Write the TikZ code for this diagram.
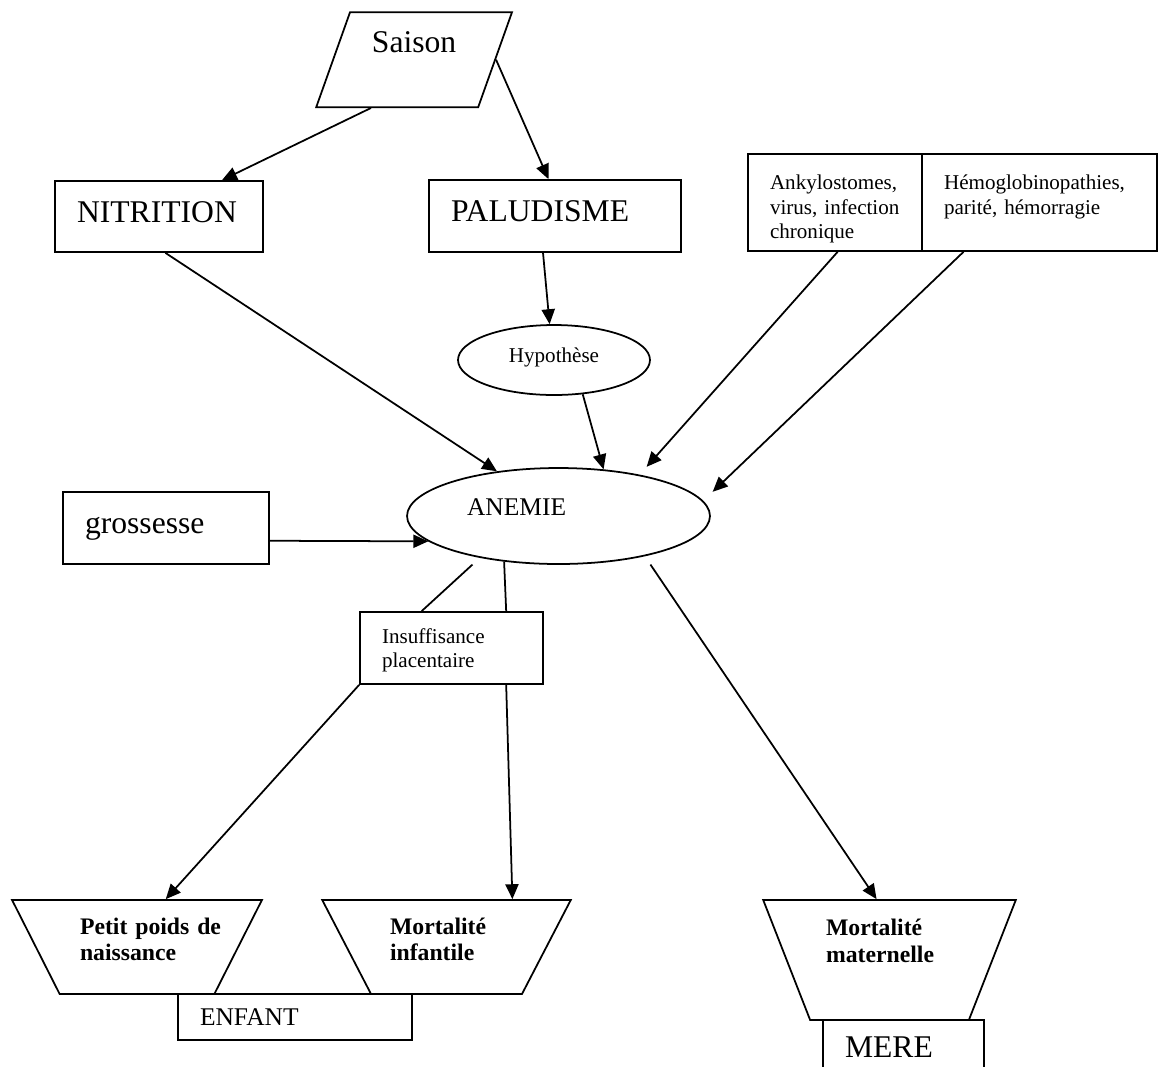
\documentclass[tikz,border=0pt]{standalone}
\usepackage{fontspec}
\setmainfont{Liberation Serif}
\usepackage{tikz}
\usetikzlibrary{positioning, arrows.meta, shapes.geometric}

\begin{document}
\begin{tikzpicture}[x=0.02cm, y=-0.02cm, line width=1pt,
  big/.style={font=\fontsize{18}{21}\selectfont},
  mid/.style={font=\fontsize{14.5}{17}\selectfont},
  small/.style={font=\fontsize{12}{14.2}\selectfont},
  heavy/.style={font=\fontsize{13.5}{15.3}\selectfont\bfseries},
  drop/.style={text height=10pt, text depth=#1},
  tbox/.style={draw, rectangle, inner xsep=0.44cm, align=left},
  oval/.style={draw, ellipse},
  funnel/.style={draw, trapezium, shape border rotate=180, trapezium stretches=true, align=left},
  arr/.style={-{Triangle[length=8.5pt,width=7.5pt]}}]

\useasboundingbox (0,0) rectangle (1159,1066);
\clip (0,0) rectangle (1159,1066);

% causes
\node[draw, trapezium, trapezium left angle=67.7, trapezium right angle=112.3, trapezium stretches=true,
  minimum width=3.94cm, minimum height=1.9cm, big, drop=18.5pt, anchor=bottom left corner] (saison) at (315,108) {Saison};
\node[tbox, big, drop=3.5pt, text width=3.28cm, minimum height=1.42cm] (nitrition) at (159,216.5) {NITRITION};
\node[tbox, big, drop=3.5pt, text width=4.16cm, minimum height=1.44cm] (paludisme) at (555,216) {PALUDISME};
\node[tbox, small, drop=25.3pt, text width=2.6cm, minimum height=1.94cm] (ankylo) at (835,202.5) {Ankylostomes,\\ virus, infection\\ chronique};
\node[tbox, small, drop=25.3pt, text width=3.82cm, minimum height=1.94cm] (hemo) at (1039.5,202.5) {Hémoglobinopathies,\\ parité, hémorragie};
\node[oval, small, drop=6.6pt, minimum width=3.84cm, minimum height=1.4cm] (hypo) at (554,360) {Hypothèse};
\node[tbox, big, drop=3.2pt, text width=3.24cm, minimum height=1.44cm] (grossesse) at (166,528) {grossesse};

% centre
\node[oval, mid, drop=11.1pt, text width=3.66cm, align=left, minimum width=6.06cm, minimum height=1.92cm] (anemie) at (558.5,516) {ANEMIE};
\node[tbox, small, drop=15.7pt, text width=2.78cm, minimum height=1.44cm] (insuff) at (451.5,648) {Insuffisance\\ placentaire};

% effects
\node[funnel, heavy, drop=24.7pt, text width=2.28cm, trapezium angle=62, minimum width=5cm, minimum height=1.88cm] (ppn) at (137,947) {Petit~poids~de\\ naissance};
\node[funnel, heavy, drop=24.7pt, text width=2.26cm, trapezium angle=61, minimum width=4.98cm, minimum height=1.88cm] (infant) at (446.5,947) {Mortalité\\ infantile};
\node[funnel, heavy, drop=38.3pt, text width=2.54cm, trapezium angle=67, minimum width=5.06cm, minimum height=2.4cm] (mater) at (889.5,960) {Mortalité\\ maternelle};
\node[tbox, mid, drop=0pt, text width=3.8cm, minimum height=0.92cm] (enfant) at (295,1017) {ENFANT};
\node[tbox, big, drop=1pt, text width=2.34cm, minimum height=1.2cm] (mere) at (903.5,1050) {MERE};

% arrows
\draw[arr] ([xshift=-0.52cm]saison.bottom side) -- (nitrition.30);
\draw[arr] (saison.right side) -- (paludisme.100);
\draw[arr] (nitrition.-80) -- (anemie.144);
\draw[arr] (paludisme.-108) -- (hypo.97);
\draw[arr] (hypo.-50) -- (anemie.46);
\draw[arr, shorten >=0.21cm] (ankylo.-87) -- (anemie.27);
\draw[arr, shorten >=0.26cm] (hemo.-147) -- (anemie.6);
\draw[arr] (grossesse.-7) -- (anemie.191.6);
\draw[shorten <=0.2cm] (anemie.208) -- (insuff.129);
\draw (anemie.220) -- (insuff.34);
\draw[arr] (insuff.south west) -- (ppn.59);
\draw[arr] (insuff.-34) -- (infant.36);
\draw[arr, shorten <=0.2cm] (anemie.-25) -- (mater.102);
\end{tikzpicture}
\end{document}
